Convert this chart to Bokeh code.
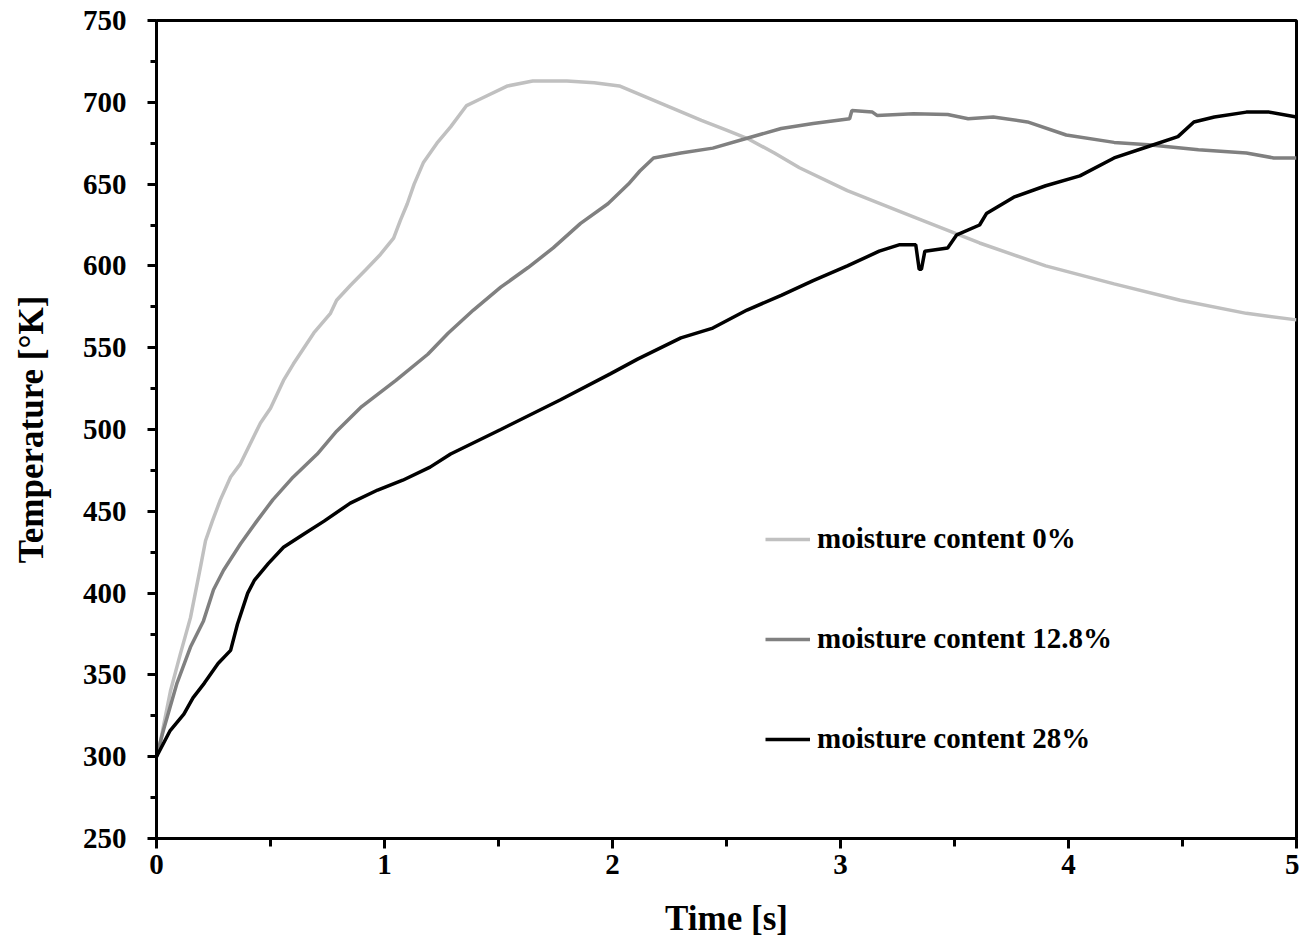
from bokeh.plotting import figure
from bokeh.models import Range1d, FixedTicker, Legend, LegendItem
from bokeh.embed import file_html
from bokeh.resources import INLINE

# ---- data ----
t_0 = [0, 0.018, 0.061, 0.105, 0.149, 0.193, 0.215, 0.245, 0.28, 0.325, 0.368, 0.41, 0.456, 0.5,
       0.557, 0.6, 0.69, 0.763, 0.79, 0.85, 0.92, 0.982, 1.04, 1.07, 1.1, 1.13, 1.17, 1.23, 1.29,
       1.36, 1.42, 1.54, 1.65, 1.8, 1.92, 2.03, 2.15, 2.27, 2.39, 2.5, 2.59, 2.71, 2.82, 3.03,
       3.32, 3.61, 3.9, 4.2, 4.49, 4.78, 5.0]
T_0 = [300, 310, 340, 363, 385, 416, 432, 444, 457, 471, 479, 491, 504, 513, 530, 540, 559, 571,
       579, 588, 598, 607, 617, 628, 638, 650, 663, 675, 685, 698, 702, 710, 713, 713, 712, 710,
       703, 696, 689, 683, 678, 669, 660, 646, 630, 614, 600, 589, 579, 571, 567]

t_128 = [0, 0.03, 0.09, 0.149, 0.206, 0.25, 0.294, 0.368, 0.44, 0.51, 0.6, 0.705, 0.79, 0.9, 1.05,
         1.19, 1.28, 1.39, 1.51, 1.63, 1.74, 1.86, 1.98, 2.07, 2.12, 2.18, 2.3, 2.44, 2.59, 2.74,
         2.88, 3.04, 3.05, 3.14, 3.16, 3.32, 3.47, 3.56, 3.67, 3.82, 3.99, 4.2, 4.35, 4.57, 4.78,
         4.9, 5.0]
T_128 = [300, 316, 345, 367, 383, 402, 414, 430, 444, 457, 471, 485, 499, 514, 530, 546, 559, 573,
         587, 599, 611, 626, 638, 650, 658, 666, 669, 672, 678, 684, 687, 690, 695, 694, 692, 693,
         692.5, 690, 691, 688, 680, 675.5, 674, 671, 669, 666, 666]

t_28 = [0, 0.06, 0.12, 0.16, 0.21, 0.27, 0.325, 0.355, 0.4, 0.43, 0.49, 0.557, 0.645, 0.735, 0.85,
        0.97, 1.08, 1.2, 1.29, 1.51, 1.77, 1.99, 2.11, 2.3, 2.44, 2.59, 2.74, 2.88, 3.03, 3.17,
        3.26, 3.33, 3.345, 3.355, 3.37, 3.47, 3.51, 3.61, 3.64, 3.76, 3.9, 4.05, 4.2, 4.35, 4.48,
        4.55, 4.64, 4.78, 4.88, 5.0]
T_28 = [300, 316, 326, 336, 345, 357, 365, 381, 400, 408, 418, 428, 436, 444, 455, 463, 469, 477,
        485, 500, 518, 534, 543, 556, 562, 573, 582, 591, 600, 609, 613, 613, 598, 598, 609, 611,
        619, 625, 632, 642, 649, 655, 666, 673, 679, 688, 691, 694, 694, 691]

series_labels = ["moisture content 0%", "moisture content 12.8%", "moisture content 28%"]
x_ticks = [0, 1, 2, 3, 4, 5]
x_minor = [0.5, 1.5, 2.5, 3.5, 4.5]
y_ticks = list(range(250, 751, 50))
y_minor = list(range(275, 751, 50))

FONT = "Liberation Serif"

p = figure(width=1299, height=941, x_range=Range1d(0, 5), y_range=Range1d(250, 750),
           output_backend="svg", toolbar_location=None,
           min_border_left=156, min_border_right=3, min_border_top=20, min_border_bottom=103)
p.background_fill_color = "white"
p.border_fill_color = "white"
p.xgrid.visible = False
p.ygrid.visible = False
p.outline_line_color = "black"
p.outline_line_width = 3
p.outline_line_alpha = 1

r0 = p.line(t_0, T_0, line_color="#c0c0c0", line_width=3.5)
r1 = p.line(t_128, T_128, line_color="#808080", line_width=3.5)
r2 = p.line(t_28, T_28, line_color="#000000", line_width=3.5)

xa = p.xaxis[0]
ya = p.yaxis[0]
xa.ticker = FixedTicker(ticks=x_ticks, minor_ticks=x_minor)
ya.ticker = FixedTicker(ticks=y_ticks, minor_ticks=y_minor)
xa.axis_label = "Time [s]"
ya.axis_label = "Temperature [°K]"
for ax in (xa, ya):
    ax.axis_line_width = 3
    ax.axis_line_color = "black"
    ax.major_tick_line_width = 3
    ax.minor_tick_line_width = 3
    ax.major_tick_line_color = "black"
    ax.minor_tick_line_color = "black"
    ax.major_tick_in = 0
    ax.minor_tick_in = 0
    ax.major_label_text_font = FONT
    ax.major_label_text_font_style = "bold"
    ax.major_label_text_font_size = "29px"
    ax.major_label_text_color = "black"
    ax.axis_label_text_font = FONT
    ax.axis_label_text_font_style = "bold"
    ax.axis_label_text_font_size = "35px"
    ax.axis_label_text_color = "black"
xa.major_tick_out = 10
xa.minor_tick_out = 8
xa.major_label_standoff = 6
xa.axis_label_standoff = 22
ya.major_tick_out = 9
ya.minor_tick_out = 6
ya.major_label_standoff = 21
ya.axis_label_standoff = 29

legend = Legend(items=[LegendItem(label=series_labels[0], renderers=[r0]),
                       LegendItem(label=series_labels[1], renderers=[r1]),
                       LegendItem(label=series_labels[2], renderers=[r2])],
                location=(609, 83), glyph_width=45, glyph_height=30, label_height=30,
                spacing=67, label_standoff=7, margin=0, padding=0,
                border_line_alpha=0, background_fill_alpha=0,
                label_text_font=FONT, label_text_font_style="bold",
                label_text_font_size="29px", label_text_color="black")
p.add_layout(legend)

open("out.html", "w").write(file_html(p, INLINE))
